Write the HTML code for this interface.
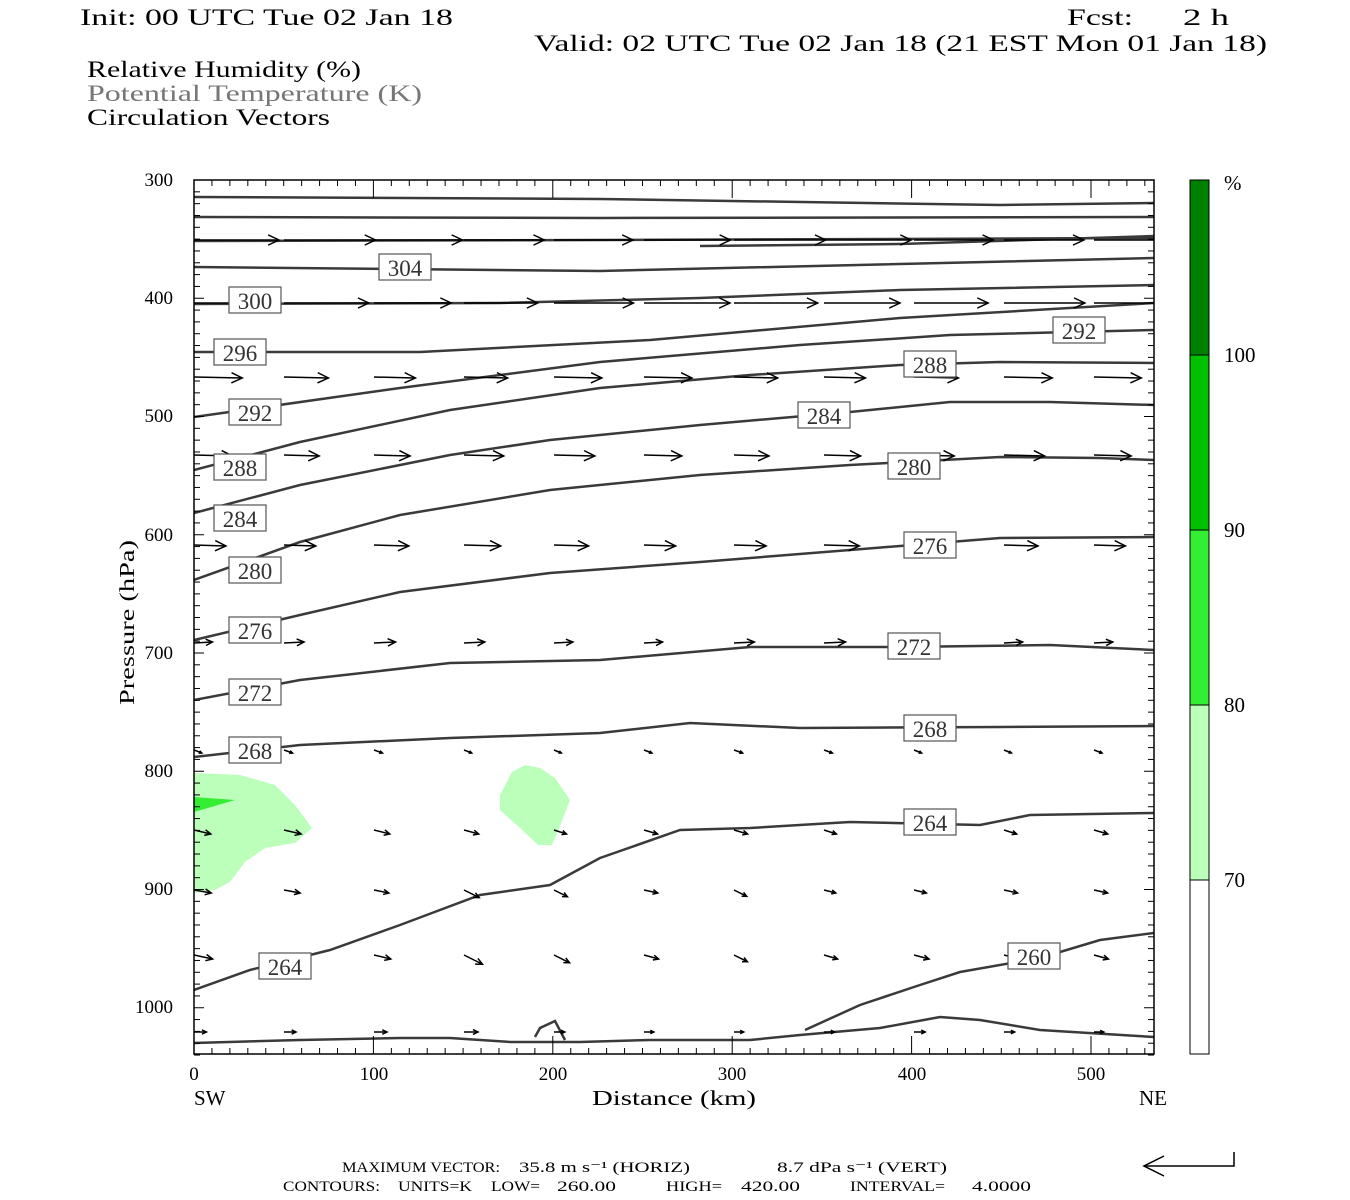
<!DOCTYPE html>
<html><head><meta charset="utf-8"><style>
html,body{margin:0;padding:0;background:#fff;}
svg{display:block;}
text{font-family:"Liberation Serif",serif;fill:#000;white-space:pre;}
</style></head><body>
<svg id="s" width="1350" height="1200" xmlns="http://www.w3.org/2000/svg" xml:space="preserve">
<defs><clipPath id="cp"><rect x="194" y="180" width="960" height="874"/></clipPath></defs>
<rect width="1350" height="1200" fill="#fff"/>
<text x="80" y="25" font-size="23" textLength="373" lengthAdjust="spacingAndGlyphs">Init: 00 UTC Tue 02 Jan 18</text>
<text x="1067" y="25" font-size="23" textLength="66" lengthAdjust="spacingAndGlyphs">Fcst:</text>
<text x="1183" y="25" font-size="23" textLength="46" lengthAdjust="spacingAndGlyphs">2 h</text>
<text x="534" y="51" font-size="23" textLength="733" lengthAdjust="spacingAndGlyphs">Valid: 02 UTC Tue 02 Jan 18 (21 EST Mon 01 Jan 18)</text>
<text x="87" y="77" font-size="23" textLength="274" lengthAdjust="spacingAndGlyphs">Relative Humidity (%)</text>
<text x="87" y="101" font-size="23" style="fill:#777" textLength="335" lengthAdjust="spacingAndGlyphs">Potential Temperature (K)</text>
<text x="87" y="125" font-size="23" textLength="243" lengthAdjust="spacingAndGlyphs">Circulation Vectors</text>

<polygon fill="#bbffbb" points="194,773 240,775 275,785 295,805 312,828 295,843 265,848 245,862 230,882 215,890 194,893"/>
<polygon fill="#33ee33" points="194,797 235,800 194,812"/>
<polygon fill="#bbffbb" points="500,795 512,772 525,765 540,768 555,778 570,800 560,826 552,845 538,845 520,828 500,810"/>

<g clip-path="url(#cp)">
<g id="contours" fill="none" stroke="#3a3a3a" stroke-width="2.5"></g>
<g id="arrows" stroke="#000" fill="#000" stroke-width="1.5"></g>
</g>
<g id="labels"></g>

<rect x="194" y="180" width="960" height="874" fill="none" stroke="#000" stroke-width="1.5"/>
<g id="ticks" stroke="#000" stroke-width="1"></g>

<g font-size="19">
<text x="173" y="186" text-anchor="end">300</text>
<text x="173" y="304" text-anchor="end">400</text>
<text x="173" y="422" text-anchor="end">500</text>
<text x="173" y="541" text-anchor="end">600</text>
<text x="173" y="659" text-anchor="end">700</text>
<text x="173" y="777" text-anchor="end">800</text>
<text x="173" y="895" text-anchor="end">900</text>
<text x="173" y="1013" text-anchor="end">1000</text>
<text x="194" y="1080" text-anchor="middle">0</text>
<text x="374" y="1080" text-anchor="middle">100</text>
<text x="553" y="1080" text-anchor="middle">200</text>
<text x="732" y="1080" text-anchor="middle">300</text>
<text x="912" y="1080" text-anchor="middle">400</text>
<text x="1091" y="1080" text-anchor="middle">500</text>
</g>
<text x="194" y="1105" font-size="21">SW</text>
<text x="1139" y="1105" font-size="21">NE</text>
<text x="592" y="1105" font-size="21" textLength="164" lengthAdjust="spacingAndGlyphs">Distance (km)</text>
<text transform="translate(134,705) rotate(-90)" font-size="21" textLength="165" lengthAdjust="spacingAndGlyphs">Pressure (hPa)</text>

<rect x="1190" y="180" width="19" height="175" fill="#008000"/>
<rect x="1190" y="355" width="19" height="175" fill="#00c000"/>
<rect x="1190" y="530" width="19" height="175" fill="#33ee33"/>
<rect x="1190" y="705" width="19" height="175" fill="#bbffbb"/>
<rect x="1190" y="880" width="19" height="174" fill="#fff"/>
<g stroke="#000" stroke-width="1"><rect x="1190" y="180" width="19" height="874" fill="none"/>
<line x1="1190" y1="355" x2="1209" y2="355"/><line x1="1190" y1="530" x2="1209" y2="530"/><line x1="1190" y1="705" x2="1209" y2="705"/><line x1="1190" y1="880" x2="1209" y2="880"/></g>
<g font-size="21">
<text x="1224" y="190">%</text>
<text x="1224" y="362">100</text>
<text x="1224" y="537">90</text>
<text x="1224" y="712">80</text>
<text x="1224" y="887">70</text>
</g>

<g font-size="15" lengthAdjust="spacingAndGlyphs">
<text x="342" y="1172" textLength="158" lengthAdjust="spacingAndGlyphs">MAXIMUM VECTOR:</text>
<text x="519" y="1172" textLength="171" lengthAdjust="spacingAndGlyphs">35.8 m s⁻¹ (HORIZ)</text>
<text x="777" y="1172" textLength="170" lengthAdjust="spacingAndGlyphs">8.7 dPa s⁻¹ (VERT)</text>
<text x="283" y="1191" textLength="97" lengthAdjust="spacingAndGlyphs">CONTOURS:</text>
<text x="398" y="1191" textLength="74" lengthAdjust="spacingAndGlyphs">UNITS=K</text>
<text x="491" y="1191" textLength="49" lengthAdjust="spacingAndGlyphs">LOW=</text>
<text x="557" y="1191" textLength="59" lengthAdjust="spacingAndGlyphs">260.00</text>
<text x="666" y="1191" textLength="56" lengthAdjust="spacingAndGlyphs">HIGH=</text>
<text x="741" y="1191" textLength="59" lengthAdjust="spacingAndGlyphs">420.00</text>
<text x="850" y="1191" textLength="95" lengthAdjust="spacingAndGlyphs">INTERVAL=</text>
<text x="972" y="1191" textLength="59" lengthAdjust="spacingAndGlyphs">4.0000</text>
</g>
<g stroke="#000" stroke-width="1.5" fill="none">
<polyline points="1234,1152 1234,1166 1144,1166"/>
<polyline points="1164,1156 1144,1166 1164,1176"/>
</g>
</svg>
<script>
var NS="http://www.w3.org/2000/svg";
function el(p,t,a){var e=document.createElementNS(NS,t);for(var k in a)e.setAttribute(k,a[k]);p.appendChild(e);return e;}
var C=document.getElementById('contours');
var lines=[
"194,197 600,199 1000,205 1154,203",
"194,217 600,218 1154,217",
"194,241 600,240 1154,238",
"700,246 900,244 1154,236",
"194,267 600,271 1154,258",
"194,304 500,303 700,298 900,290 1154,285",
"194,352 420,352 650,340 900,318 1154,303",
"194,417 400,388 600,362 800,345 950,335 1154,330",
"194,470 300,442 450,410 600,388 750,375 900,365 1000,362 1154,363",
"194,513 300,485 450,455 550,440 700,425 850,412 950,402 1050,402 1154,405",
"194,580 300,542 400,515 550,490 700,475 850,465 1000,457 1100,458 1154,460",
"194,640 300,615 400,592 550,573 700,562 850,550 1000,538 1154,537",
"194,700 300,680 450,663 600,660 750,647 900,647 1050,645 1154,650",
"194,757 300,745 450,738 600,733 690,723 800,728 1000,727 1154,726",
"194,990 250,970 330,950 400,925 480,895 550,885 600,858 680,830 750,828 850,822 980,825 1030,815 1154,813",
"805,1030 860,1005 920,985 960,972 1040,958 1100,940 1154,933",
"194,1043 300,1040 400,1038 450,1038 510,1042 580,1042 650,1040 750,1040 800,1035 880,1028 940,1017 980,1020 1040,1030 1154,1037",
"535,1037 540,1028 555,1021 565,1040"
];
lines.forEach(function(p){el(C,'polyline',{points:p});});
var L=document.getElementById('labels');
var labs=[[405,267,"304"],[255,300,"300"],[240,352,"296"],[255,412,"292"],[240,467,"288"],[240,518,"284"],[255,570,"280"],[255,630,"276"],[255,692,"272"],[255,750,"268"],[285,966,"264"],
[1079,330,"292"],[930,364,"288"],[824,415,"284"],[914,466,"280"],[930,545,"276"],[914,646,"272"],[930,728,"268"],[930,822,"264"],[1034,956,"260"]];
labs.forEach(function(l){el(L,'rect',{x:l[0]-26,y:l[1]-13,width:52,height:26,fill:'#fff',stroke:'#555','stroke-width':1.2});
var t=el(L,'text',{x:l[0],y:l[1]+9,'font-size':23,'text-anchor':'middle',style:'fill:#333'});t.textContent=l[2];});
var A=document.getElementById('arrows');
var rows=[[240,85,0],[303,80,0],[377,45,1],[455,38,1],[545,34,1],[643,20,-1],[750,8,3],[830,16,4],[890,16,3],[955,18,4],[1032,13,0]];
var cols=[194,284,374,464,554,644,734,824,914,1004,1094];
rows.forEach(function(r,ri){cols.forEach(function(x,ci){
 var len=r[1]*(1+0.08*Math.sin(ci*1.3+ri)),dy=r[2];
 if(ri>=7&&ci>=4){len*=0.8;}
 if((ri==8||ri==9)&&(ci==3||ci==4||ci==6)){dy=len*0.5;}
 var x2=x+len,y2=r[0]+dy;
 el(A,'line',{x1:x,y1:r[0],x2:x2,y2:y2});
 var ang=Math.atan2(dy,len),h=Math.min(12,len*0.4);
 var a1=ang+2.7,a2=ang-2.7;
 el(A,'polyline',{points:(x2+h*Math.cos(a1))+','+(y2+h*Math.sin(a1))+' '+x2+','+y2+' '+(x2+h*Math.cos(a2))+','+(y2+h*Math.sin(a2)),fill:'none'});
});});
var T=document.getElementById('ticks');
for(var p=310;p<=1040;p+=10){var y=180+(p-300)*1.1825;var l=(p%100==0)?10:6;
el(T,'line',{x1:194,y1:y,x2:194+l,y2:y});el(T,'line',{x1:1154,y1:y,x2:1154-l,y2:y});}
for(var d=10;d<535;d+=10){var x=194+d*1.794;var l=(d%100==0)?18:6;
el(T,'line',{x1:x,y1:1054,x2:x,y2:1054-l});el(T,'line',{x1:x,y1:180,x2:x,y2:180+l});}
</script>
</body></html>
